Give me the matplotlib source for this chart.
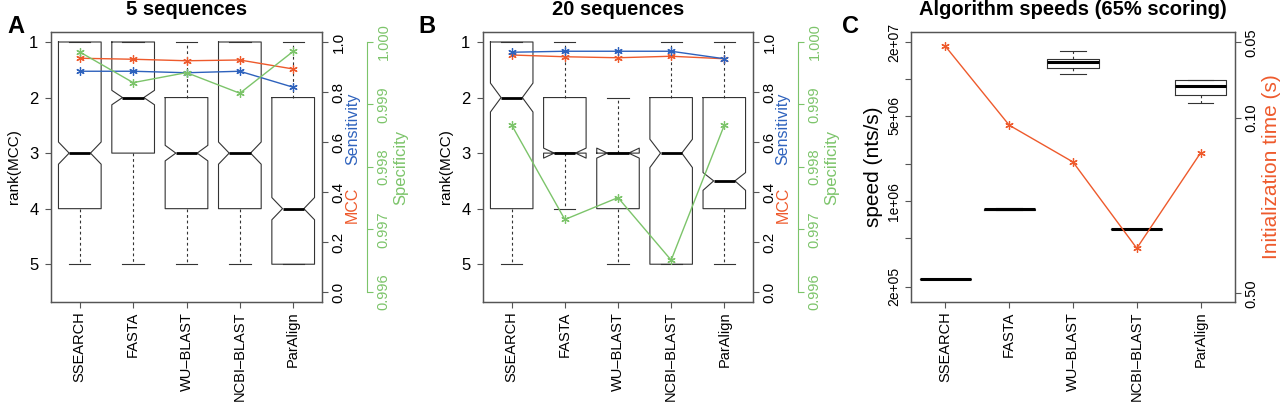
import numpy as np
import matplotlib
matplotlib.use("Agg")
import matplotlib.pyplot as plt

plt.rcParams['font.family'] = ['Liberation Sans', 'DejaVu Sans']

# ---- data ----
tools = ['SSEARCH', 'FASTA', 'WU\u2013BLAST', 'NCBI\u2013BLAST', 'ParAlign']

# rank(MCC) box stats, 5 sequences: whisker top, q1, median, q3, whisker bottom, notch low, notch high
a_whislo = [1, 1, 1, 1, 1]
a_q1 = [1, 1, 2, 1, 2]
a_med = [3, 2, 3, 3, 4]
a_q3 = [4, 3, 4, 4, 5]
a_whishi = [5, 5, 5, 5, 5]
a_cilo = [2.80, 1.87, 2.86, 2.80, 3.80]
a_cihi = [3.20, 2.13, 3.14, 3.20, 4.20]

a_mcc = [0.935, 0.931, 0.925, 0.928, 0.892]
a_sens = [0.883, 0.883, 0.877, 0.883, 0.819]
a_spec = [0.99984, 0.99935, 0.99951, 0.99918, 0.99985]

# rank(MCC) box stats, 20 sequences
b_whislo = [1, 1, 2, 1, 1]
b_q1 = [1, 2, 3, 2, 2]
b_med = [2, 3, 3, 3, 3.5]
b_q3 = [4, 3, 4, 5, 4]
b_whishi = [5, 4, 5, 5, 5]
b_cilo = [1.74, 2.91, 2.91, 2.75, 3.35]
b_cihi = [2.26, 3.09, 3.09, 3.26, 3.67]

b_mcc = [0.948, 0.941, 0.937, 0.943, 0.933]
b_sens = [0.959, 0.963, 0.963, 0.963, 0.933]
b_spec = [0.99867, 0.99716, 0.99751, 0.99651, 0.99867]

# speeds (nts/s)
c_whislo = [2.30e5, 8.45e5, 1.09e7, 5.90e5, 6.34e6]
c_q1 = [2.30e5, 8.55e5, 1.24e7, 5.90e5, 7.45e6]
c_med = [2.30e5, 8.60e5, 1.37e7, 5.90e5, 8.78e6]
c_q3 = [2.30e5, 8.65e5, 1.45e7, 5.90e5, 9.77e6]
c_whishi = [2.30e5, 8.75e5, 1.71e7, 5.90e5, 9.77e6]
# initialization time (s)
c_init = [0.0519, 0.107, 0.150, 0.331, 0.138]

RED = '#EE5A2C'
BLUE = '#2E62BD'
GREEN = '#7CC46A'
FRAME = '#555555'
BOXC = '#333333'
star = (6, 2, 0)

def make_stats(whislo, q1, med, q3, whishi, cilo=None, cihi=None):
    stats = []
    for i in range(len(med)):
        d = dict(whislo=whislo[i], q1=q1[i], med=med[i], q3=q3[i],
                 whishi=whishi[i], fliers=[])
        if cilo is not None:
            d['cilo'] = cilo[i]
            d['cihi'] = cihi[i]
        stats.append(d)
    return stats

def draw_box(ax, stats, notch, medlw):
    ax.bxp(stats, positions=range(1, 6), widths=0.8, shownotches=notch,
           showfliers=False, patch_artist=False,
           boxprops=dict(color=BOXC, lw=0.8),
           whiskerprops=dict(color=BOXC, lw=0.8, linestyle=(0, (2.5, 2.5))),
           capprops=dict(color=BOXC, lw=0.8),
           medianprops=dict(color='black', lw=medlw))

def style_frame(ax):
    for s in ax.spines.values():
        s.set_color(FRAME)
        s.set_linewidth(0.9)
    ax.tick_params(length=4, width=0.8, color=FRAME, labelsize=10.5, pad=3)

fig = plt.figure(figsize=(12.8, 4.09), dpi=100)
H = 409.0
W = 1280.0
bot = (H - 302) / H
hgt = 270 / H

def rank_panel(left, width, title, st, mcc, sens, spec):
    ax = fig.add_axes([left / W, bot, width / W, hgt])
    draw_box(ax, st, True, 2.0)
    ax.set_xlim(0.46, 5.54)
    ax.set_ylim(5.68, 0.82)
    ax.set_yticks([1, 2, 3, 4, 5])
    ax.set_xticks(range(1, 6))
    ax.set_xticklabels(tools, rotation=90, fontsize=11.5)
    ax.set_ylabel('rank(MCC)', fontsize=11, labelpad=6)
    ax.set_title(title, fontsize=14.5, fontweight='bold', pad=12)
    style_frame(ax)
    ax.tick_params(axis='y', labelsize=12, pad=5)

    ax2 = ax.twinx()
    ax2.set_ylim(-0.04, 1.04)
    ax2.plot(range(1, 6), mcc, color=RED, lw=1, marker=star, ms=6, mew=0.9)
    ax2.plot(range(1, 6), sens, color=BLUE, lw=1, marker=star, ms=6, mew=0.9)
    ax2.set_yticks([0, 0.2, 0.4, 0.6, 0.8, 1.0])
    ax2.set_yticklabels(['0.0', '0.2', '0.4', '0.6', '0.8', '1.0'])
    style_frame(ax2)
    ax2.tick_params(axis='y', labelrotation=90, labelsize=11)
    for lab in ax2.get_yticklabels():
        lab.set_va('center')
    ax2.text(1.112, 0.36, 'MCC', color=RED, rotation=90, fontsize=11.5,
             ha='center', va='center', transform=ax2.transAxes)
    ax2.text(1.112, 0.64, 'Sensitivity', color=BLUE, rotation=90, fontsize=11.5,
             ha='center', va='center', transform=ax2.transAxes)

    ax3 = ax.twinx()
    ax3.set_ylim(0.996 - 0.04 * 0.004, 1.0 + 0.04 * 0.004)
    ax3.plot(range(1, 6), spec, color=GREEN, lw=1, marker=star, ms=6, mew=0.9)
    ax3.spines['right'].set_position(('outward', 32.5))
    ax3.spines['right'].set_bounds(0.996, 1.0)
    ax3.spines['right'].set_color(GREEN)
    for k in ['top', 'left', 'bottom']:
        ax3.spines[k].set_visible(False)
    ax3.set_yticks([0.996, 0.997, 0.998, 0.999, 1.0])
    ax3.set_yticklabels(['0.996', '0.997', '0.998', '0.999', '1.000'])
    ax3.tick_params(axis='y', length=4, width=0.8, color=GREEN, labelcolor=GREEN,
                    labelsize=10.5, labelrotation=90, pad=3)
    for lab in ax3.get_yticklabels():
        lab.set_va('center')
    ax3.set_ylabel('Specificity', color=GREEN, fontsize=12, labelpad=2)
    return ax

rank_panel(51, 271, '5 sequences',
           make_stats(a_whislo, a_q1, a_med, a_q3, a_whishi, a_cilo, a_cihi),
           a_mcc, a_sens, a_spec)
rank_panel(483, 270, '20 sequences',
           make_stats(b_whislo, b_q1, b_med, b_q3, b_whishi, b_cilo, b_cihi),
           b_mcc, b_sens, b_spec)

# ---- panel C ----
axc = fig.add_axes([911 / W, bot, 324 / W, hgt])
axc.set_yscale('log')
draw_box(axc, make_stats(c_whislo, c_q1, c_med, c_q3, c_whishi), False, 2.2)
axc.set_xlim(0.46, 5.54)
axc.set_ylim(10 ** 5.176, 10 ** 7.385)
axc.set_yticks([2e5, 5e5, 1e6, 2e6, 5e6, 1e7, 2e7])
axc.set_yticklabels(['2e+05', '', '1e+06', '', '5e+06', '', '2e+07'])
axc.minorticks_off()
axc.set_xticks(range(1, 6))
axc.set_xticklabels(tools, rotation=90, fontsize=11.5)
style_frame(axc)
axc.tick_params(axis='y', labelrotation=90, labelsize=10)
for lab in axc.get_yticklabels():
    lab.set_va('center')
axc.set_ylabel('speed (nts/s)', fontsize=15, labelpad=3)
axc.set_title('Algorithm speeds (65% scoring)', fontsize=14.5, fontweight='bold', pad=12)

axc2 = axc.twinx()
axc2.set_yscale('log')
axc2.plot(range(1, 6), c_init, color=RED, lw=1, marker=star, ms=6, mew=0.9)
axc2.set_ylim(0.542, 0.0455)
axc2.set_yticks([0.05, 0.1, 0.5])
axc2.set_yticklabels(['0.05', '0.10', '0.50'])
axc2.minorticks_off()
style_frame(axc2)
axc2.tick_params(axis='y', labelrotation=90, labelsize=10.5)
for lab in axc2.get_yticklabels():
    lab.set_va('center')
axc2.set_ylabel('Initialization time (s)', color=RED, fontsize=15, labelpad=2)

# panel letters
for x, s in [(7, 'A'), (418, 'B'), (842, 'C')]:
    fig.text(x / W, 1 - 33 / H, s, fontsize=17, fontweight='bold', va='baseline')

fig.savefig('out.png', dpi=100)
